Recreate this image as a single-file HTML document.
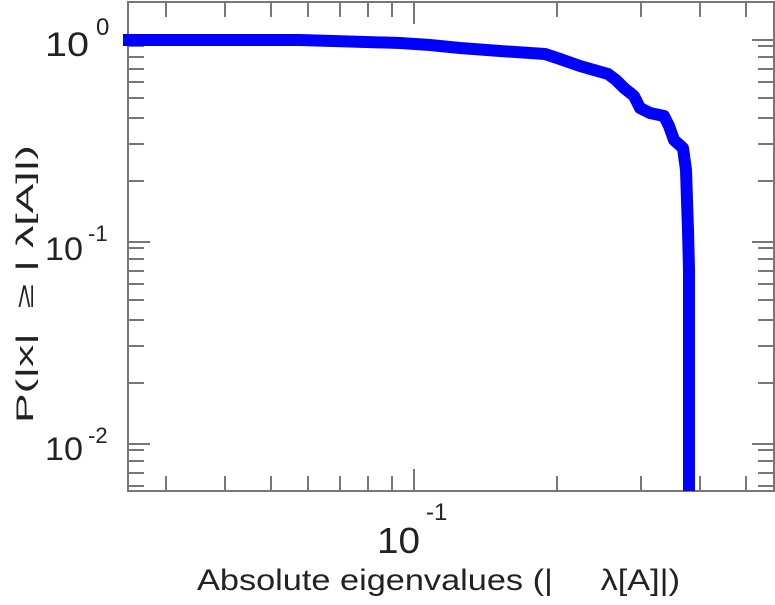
<!DOCTYPE html>
<html><head><meta charset="utf-8"><style>
body{margin:0;background:#fff}
svg text{font-family:"Liberation Sans",sans-serif;fill:#222}
</style></head><body>
<svg width="775" height="600" viewBox="0 0 775 600">
<g stroke="#777" stroke-width="2" fill="none">
<rect x="128" y="2" width="646" height="489"/>
<path d="M166 491v-15M225 491v-15M271 491v-15M308 491v-15M340 491v-15M368 491v-15M392 491v-15M414 491v-22M557 491v-15M641 491v-15M700 491v-15M746 491v-15
M166 2v15M225 2v15M271 2v15M308 2v15M340 2v15M368 2v15M392 2v15M414 2v22M557 2v15M641 2v15M700 2v15M746 2v15"/>
<path d="M128 40h22M128 242h22M128 444h22M774 40h-22M774 242h-22M774 444h-22
M128 46h16M128 57h16M128 69h16M128 82h16M128 98h16M128 118h16M128 144h16M128 181h16
M128 248h16M128 259h16M128 271h16M128 284h16M128 300h16M128 320h16M128 346h16M128 383h16
M128 450h16M128 461h16M128 473h16M128 486h16
M774 46h-16M774 57h-16M774 69h-16M774 82h-16M774 98h-16M774 118h-16M774 144h-16M774 181h-16
M774 248h-16M774 259h-16M774 271h-16M774 284h-16M774 300h-16M774 320h-16M774 346h-16M774 383h-16
M774 450h-16M774 461h-16M774 473h-16M774 486h-16"/>
</g>
<path d="M123 40 L300 40 L400 43 L430 45 L460 48 L500 51 L545 54 L560 59 L580 66 L608 74 L616 80 L624 88 L634 96 L640 108 L650 113 L664 116 L669 126 L674 140 L683 148 L686 170 L688 230 L689 270 L689 491" stroke="#0000ff" stroke-width="12" fill="none" stroke-linejoin="round"/>
<g font-size="34">
<text x="45" y="56" textLength="44" lengthAdjust="spacingAndGlyphs">10</text><text x="96" y="35" font-size="24">0</text>
<text x="45" y="260" textLength="38" lengthAdjust="spacingAndGlyphs" font-size="32">10</text><text x="88" y="241" font-size="22">-1</text>
<text x="45" y="460" textLength="38" lengthAdjust="spacingAndGlyphs" font-size="32">10</text><text x="88" y="443" font-size="22">-2</text>
<text x="377" y="553" textLength="43" lengthAdjust="spacingAndGlyphs" font-size="36">10</text><text x="426" y="520" font-size="24">-1</text>
</g>
<text x="197" y="590" font-size="30" textLength="483" lengthAdjust="spacingAndGlyphs" xml:space="preserve">Absolute eigenvalues (|     λ[A]|)</text>
<text transform="translate(33,423) rotate(-90)" font-size="24" textLength="278" lengthAdjust="spacingAndGlyphs" xml:space="preserve">P(|x|  ≥ | λ[A]|)</text>
</svg>
</body></html>
